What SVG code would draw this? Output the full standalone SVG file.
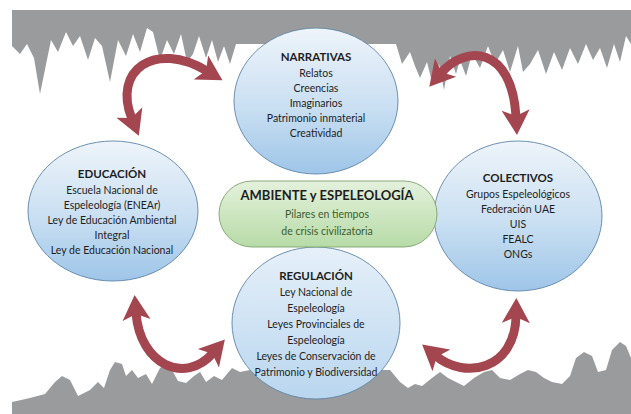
<svg xmlns="http://www.w3.org/2000/svg" width="631" height="414" viewBox="0 0 631 414">
  <defs>
    <linearGradient id="blueFill" x1="0" y1="0" x2="0" y2="1">
      <stop offset="0" stop-color="#eef4fa"/>
      <stop offset="0.55" stop-color="#c9dff2"/>
      <stop offset="1" stop-color="#9ec5e8"/>
    </linearGradient>
    <linearGradient id="blueSoft" x1="0" y1="0" x2="0" y2="1">
      <stop offset="0" stop-color="#e6f0f9"/>
      <stop offset="1" stop-color="#b9d6ef"/>
    </linearGradient>
    <linearGradient id="greenFill" x1="0" y1="0" x2="0" y2="1">
      <stop offset="0" stop-color="#e4f1dc"/>
      <stop offset="1" stop-color="#b7dba7"/>
    </linearGradient>
    <marker id="head" viewBox="-7 -15 26 30" markerWidth="26" markerHeight="30" markerUnits="userSpaceOnUse" refX="0" refY="0" orient="auto-start-reverse">
      <path d="M -7,-14 L 18,0 L -7,14 L -1,0 Z" fill="#a4464f"/>
    </marker>
  </defs>
  <style>
    .rock { fill: #9a9b9c; }
    .bubble { stroke: #5f84a6; stroke-width: 0.9; }
    .pill { fill: url(#greenFill); stroke: #7ea36f; stroke-width: 0.9; }
    .arrow { fill: none; stroke: #a4464f; stroke-width: 9; stroke-linecap: butt; }
    text { font-family: Lato, "Open Sans", "Liberation Sans", sans-serif; text-anchor: middle; fill: #1e1e1e; }
    .title { font-size: 11.5px; font-weight: bold; }
    .line { font-size: 10.5px; }
    .hub { font-size: 13px; font-weight: bold; }
    .sub { font-size: 10.5px; fill: #3e5e30; }
  </style>

  <rect width="631" height="414" fill="#ffffff"/>

  <!-- cave ceiling with stalactites -->
  <path class="rock" d="M 12,10 L 631,10 L 631,44 L 626,36 L 620,62 L 614,44 L 607,68 L 600,48 L 593,60 L 586,44 L 578,64 L 570,48 L 562,70 L 554,52 L 546,74 L 538,50 L 530,64 L 523,72 L 518,46 L 510,72 L 503,50 L 495,64 L 488,46 L 480,68 L 472,54 L 466,76 L 460,60 L 456,74 L 450,56 L 444,90 L 439,64 L 433,86 L 427,62 L 420,78 L 415,66 L 410,52 L 402,64 L 396,44 L 236,44 L 230,64 L 224,46 L 218,62 L 212,40 L 206,58 L 199,36 L 193,54 L 187,62 L 181,34 L 174,54 L 167,40 L 160,60 L 153,32 L 147,28 L 140,52 L 133,34 L 126,56 L 118,40 L 110,82 L 102,46 L 95,38 L 88,60 L 80,36 L 73,46 L 66,32 L 58,52 L 51,40 L 40,94 L 34,58 L 27,44 L 20,54 L 12,46 Z"/>

  <!-- cave floor with stalagmites -->
  <path class="rock" d="M 12,414 L 12,402 L 30,398 L 45,394 L 55,382 L 62,376 L 70,380 L 78,396 L 90,390 L 98,382 L 104,388 L 110,370 L 115,362 L 122,364 L 126,376 L 132,370 L 138,378 L 146,374 L 152,384 L 160,368 L 166,364 L 172,370 L 178,381 L 186,383 L 194,376 L 200,372 L 206,382 L 214,376 L 222,380 L 232,368 L 240,372 L 250,370 L 390,370 L 400,382 L 408,388 L 415,384 L 422,386 L 432,378 L 440,372 L 448,378 L 456,382 L 464,386 L 474,378 L 484,372 L 492,370 L 500,378 L 510,380 L 520,374 L 528,370 L 536,372 L 544,378 L 552,382 L 562,384 L 570,376 L 576,358 L 584,352 L 592,356 L 598,372 L 606,370 L 612,350 L 620,342 L 626,346 L 631,358 L 631,414 Z"/>

  <!-- connectors -->
  <g id="connectors">
    <path class="arrow" d="M 132,119 C 112,70 155,40 207,71" marker-start="url(#head)" marker-end="url(#head)"/>
    <path class="arrow" d="M 441,73 C 465,45 512,45 516,117" marker-start="url(#head)" marker-end="url(#head)"/>
    <path class="arrow" d="M 136,313 C 140,365 185,385 213,353" marker-start="url(#head)" marker-end="url(#head)"/>
    <path class="arrow" d="M 436,356 C 465,380 515,370 516,316" marker-start="url(#head)" marker-end="url(#head)"/>
  </g>

  <g id="narrativas">
    <ellipse class="bubble" cx="316" cy="101" rx="82" ry="73" fill="url(#blueFill)"/>
    <text class="title" x="316" y="61">NARRATIVAS</text>
    <text class="line" x="316" y="77">Relatos</text>
    <text class="line" x="316" y="92">Creencias</text>
    <text class="line" x="316" y="107">Imaginarios</text>
    <text class="line" x="316" y="122">Patrimonio inmaterial</text>
    <text class="line" x="316" y="137">Creatividad</text>
  </g>

  <g id="educacion">
    <ellipse class="bubble" cx="113" cy="211" rx="85" ry="70" fill="url(#blueFill)"/>
    <text class="title" x="112" y="178">EDUCACIÓN</text>
    <text class="line" x="112" y="194">Escuela Nacional de</text>
    <text class="line" x="112" y="209">Espeleología (ENEAr)</text>
    <text class="line" x="112" y="224">Ley de Educación Ambiental</text>
    <text class="line" x="112" y="239">Integral</text>
    <text class="line" x="112" y="254">Ley de Educación Nacional</text>
  </g>

  <g id="colectivos">
    <ellipse class="bubble" cx="518" cy="216" rx="84" ry="75" fill="url(#blueFill)"/>
    <text class="title" x="518" y="182">COLECTIVOS</text>
    <text class="line" x="518" y="198">Grupos Espeleológicos</text>
    <text class="line" x="518" y="213">Federación UAE</text>
    <text class="line" x="518" y="228">UIS</text>
    <text class="line" x="518" y="243">FEALC</text>
    <text class="line" x="518" y="258">ONGs</text>
  </g>

  <g id="regulacion">
    <ellipse class="bubble" cx="316" cy="323" rx="84" ry="76" fill="url(#blueSoft)"/>
    <text class="title" x="316" y="280">REGULACIÓN</text>
    <text class="line" x="316" y="296">Ley Nacional de</text>
    <text class="line" x="316" y="312">Espeleología</text>
    <text class="line" x="316" y="328">Leyes Provinciales de</text>
    <text class="line" x="316" y="344">Espeleología</text>
    <text class="line" x="316" y="360">Leyes de Conservación de</text>
    <text class="line" x="316" y="376">Patrimonio y Biodiversidad</text>
  </g>

  <g id="ambiente">
    <rect class="pill" x="219" y="181" width="218" height="66" rx="33" ry="33"/>
    <text class="hub" x="327" y="200">AMBIENTE y ESPELEOLOGÍA</text>
    <text class="sub" x="327" y="218">Pilares en tiempos</text>
    <text class="sub" x="327" y="235">de crisis civilizatoria</text>
  </g>
</svg>
